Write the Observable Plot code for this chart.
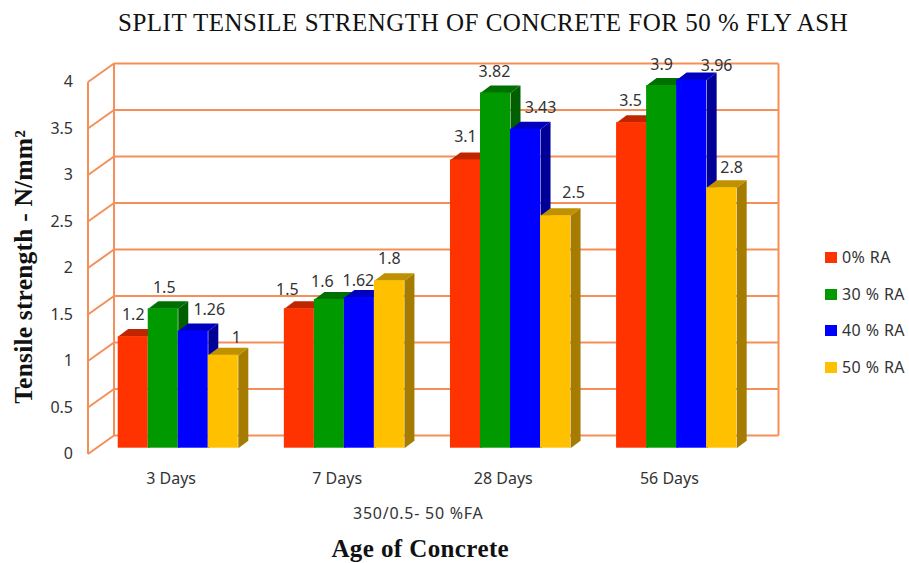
<!DOCTYPE html>
<html><head><meta charset="utf-8">
<script src="https://cdn.jsdelivr.net/npm/d3@7"></script>
<script src="https://cdn.jsdelivr.net/npm/@observablehq/plot@0.6"></script>
<style>
html,body{margin:0;padding:0;background:#fff}
#wrap{position:relative;width:909px;height:563px;overflow:hidden}
#title{height:42px;font:25px/45px "Liberation Serif",serif;letter-spacing:.5px;color:#111;white-space:nowrap;text-align:left;padding-left:118px;box-sizing:border-box}
#legend{position:absolute;left:825px;top:0;font:16px "Noto Sans",sans-serif;letter-spacing:.4px;color:#333}
#legend div{position:absolute;white-space:nowrap;left:0}
#legend i{position:absolute;left:0;top:6px;width:11.5px;height:11px}
#legend span{position:absolute;left:17px;top:0}
svg{display:block}
.ylab text{letter-spacing:.2px}
.xsub text{letter-spacing:.75px}
.xname text{letter-spacing:.4px}
</style></head><body>
<div id="wrap"><div id="title">SPLIT TENSILE STRENGTH OF CONCRETE FOR 50 % FLY ASH</div><div id="legend"></div><div id="chart"></div></div>
<script>
const ages = ["3 Days","7 Days","28 Days","56 Days"];
const series = ["0% RA","30 % RA","40 % RA","50 % RA"];
const ra0  = [1.2,1.5,3.1,3.5];
const ra30 = [1.5,1.6,3.82,3.9];
const ra40 = [1.26,1.62,3.43,3.96];
const ra50 = [1,1.8,2.5,2.8];
const valueLabels = [["1.2","1.5","3.1","3.5"],["1.5","1.6","3.82","3.9"],["1.26","1.62","3.43","3.96"],["1","1.8","2.5","2.8"]];
const columns = [ra0,ra30,ra40,ra50];
const fronts = ["#FF3300","#009900","#0000FF","#FFC000"];
const tops   = ["#BF2600","#007000","#0000C0","#BF9000"];
const sides  = ["#A62100","#006000","#000099","#A67C00"];
const yTicks = [0,0.5,1,1.5,2,2.5,3,3.5,4];
// label nudges in pixels relative to the top-centre of each bar [series][age]
const nudge = [[[0,-22],[-12,-19],[0,-23],[-1,-22]],
               [[1,-21],[-7,-18],[-1,-21],[0,-21]],
               [[16,-21],[-1,-17],[15,-21],[25,-14]],
               [[13,-17],[0,-22],[18,-23],[10,-20]]];

const titleH = 42, H = 563 - titleH;
const pxX = 166, pxY = 93;            // pixels per category / per y unit
const wallX = 26/pxX, wallY = 18.5/pxY; // chart wall depth
const barW = 30/pxX, bar0 = 30.2/pxX, base = 5.8/pxY, dX = 10/pxX, dY = 7.5/pxY;
const orange = "#F58F58";

const wallLines = yTicks.flatMap(t => [
  {x1:wallX,y1:t+wallY,x2:4+wallX,y2:t+wallY},
  {x1:0,y1:t,x2:wallX,y2:t+wallY}
]).concat([
  {x1:0,y1:0,x2:0,y2:4},
  {x1:wallX,y1:wallY,x2:wallX,y2:4+wallY},
  {x1:4+wallX,y1:wallY,x2:4+wallX,y2:4+wallY}
]);

const barMarks = [], labelMarks = [];
ages.forEach((age,a) => {
  columns.forEach((col,s) => {
    const v = col[a], x1 = a + bar0 + s*barW, x2 = x1 + barW, yb = base, yt = base + v;
    const poly = (c,pts) => Plot.line(pts,{x:"0",y:"1",fill:c,stroke:null,curve:"linear-closed"});
    barMarks.push(
      poly(sides[s],[[x2,yb],[x2+dX,yb+dY],[x2+dX,yt+dY],[x2,yt]]),
      poly(tops[s],[[x1,yt],[x2,yt],[x2+dX,yt+dY],[x1+dX,yt+dY]]),
      Plot.rect([{age,series:series[s],v}],{x1:()=>x1,x2:()=>x2,y1:()=>yb,y2:()=>yt,fill:fronts[s]})
    );
    labelMarks.push(Plot.text([v],{x:()=>x1+barW/2,y:()=>yt,text:()=>valueLabels[s][a],
      dx:nudge[s][a][0],dy:nudge[s][a][1],fontSize:16,fill:"#333",fontFamily:"Noto Sans"}));
  });
});

const plot = Plot.plot({
  width:909,height:H,
  marginLeft:87.5,marginRight:131,marginTop:63-titleH,marginBottom:H-(453.5-titleH),
  style:{background:"#fff",overflow:"visible",fontFamily:"Noto Sans"},
  x:{type:"linear",domain:[0,4+wallX]},
  y:{type:"linear",domain:[0,4+wallY]},
  marks:[
    Plot.link(wallLines,{x1:"x1",y1:"y1",x2:"x2",y2:"y2",stroke:orange,strokeWidth:2}),
    ...barMarks,
    ...labelMarks,
    Plot.axisY({ticks:yTicks,tickSize:0,tickPadding:15,tickFormat:d=>String(d),fontSize:16,color:"#333",label:null}),
    Plot.axisX({ticks:ages.map((_,i)=>i+.5),tickSize:0,tickPadding:19,tickFormat:d=>ages[d-.5],fontSize:16,color:"#333",label:null}),
    Plot.text(["350/0.5- 50 %FA"],{frameAnchor:"bottom",text:d=>d,dy:65,dx:-15,fontSize:16,fill:"#333",fontFamily:"Noto Sans",className:"xsub"}),
    Plot.text(["Age of Concrete"],{frameAnchor:"bottom",text:d=>d,dy:103,dx:-13,fontSize:25,fontWeight:"bold",fill:"#111",fontFamily:"Liberation Serif",className:"xname"}),
    Plot.text(["Tensile strength - N/mm²"],{frameAnchor:"left",text:d=>d,rotate:-90,dx:-64,dy:145,fontSize:25.5,fontWeight:"bold",fill:"#111",fontFamily:"Liberation Serif",className:"ylab"})
  ]
});
document.getElementById("chart").appendChild(plot);
const lg = document.getElementById("legend");
series.forEach((s,i)=>{
  const d=document.createElement("div");
  d.style.top=(246+i*36.6)+"px";
  d.innerHTML=`<i style="background:${fronts[i]}"></i><span>${s}</span>`;
  lg.appendChild(d);
});
</script></body></html>
